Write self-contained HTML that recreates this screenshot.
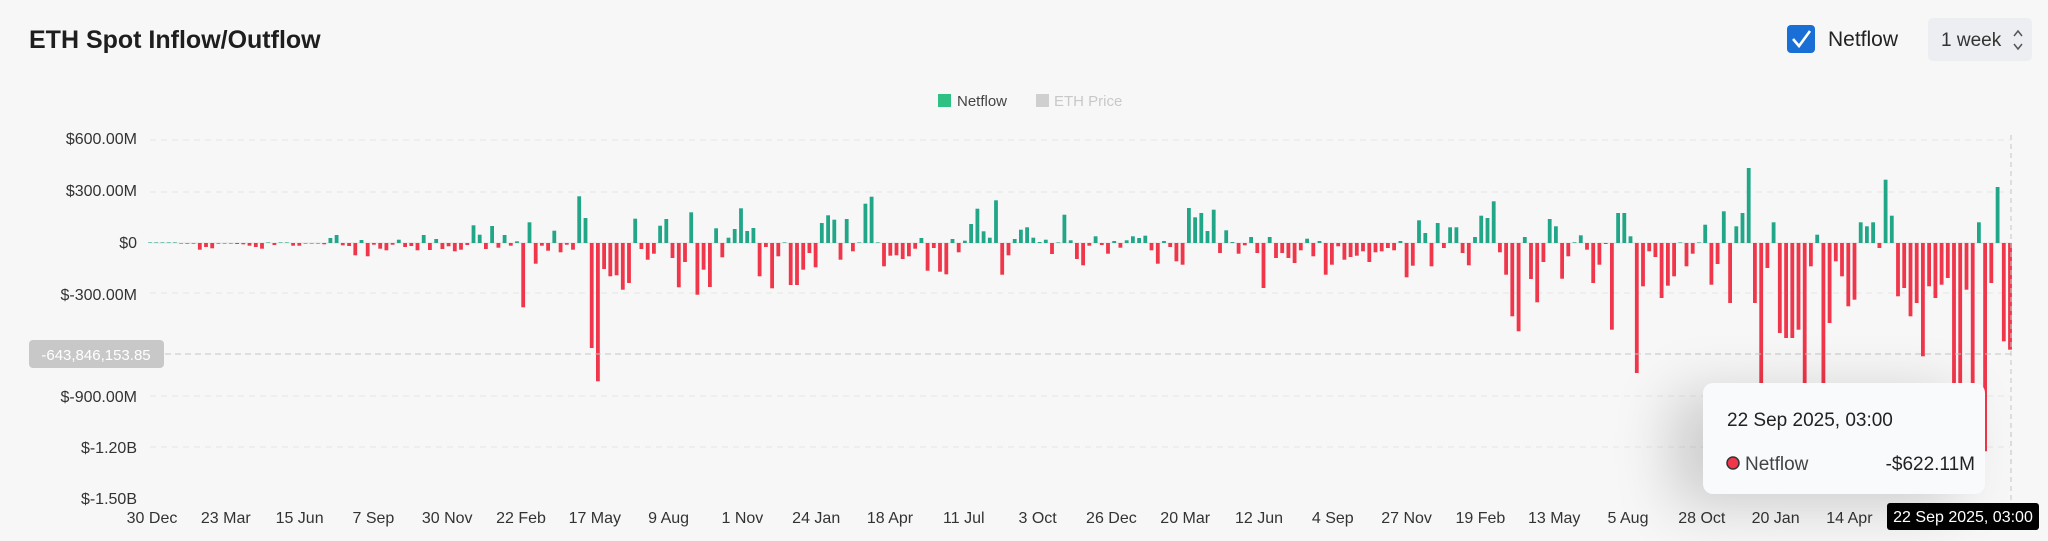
<!DOCTYPE html>
<html><head><meta charset="utf-8"><style>
html,body{margin:0;padding:0;background:#f7f7f7;}
body{width:2048px;height:541px;overflow:hidden;position:relative;font-family:"Liberation Sans",sans-serif;}
svg{position:absolute;left:0;top:0;}
.tt{position:absolute;left:1703px;top:383px;width:282px;height:111px;background:#f9fafb;border-radius:10px;box-shadow:-30px 10px 60px rgba(0,0,0,0.18);}
</style></head><body>
<svg id="c" width="2048" height="541" xmlns="http://www.w3.org/2000/svg">
<text x="29" y="48" font-size="25" font-weight="bold" fill="#1e1e1e" font-family="Liberation Sans, sans-serif">ETH Spot Inflow/Outflow</text>
<rect x="1787" y="25" width="28" height="28" rx="4" fill="#1a6fd6"/>
<path d="M1793 39 L1799 46 L1810 31" stroke="#fff" stroke-width="2.6" fill="none"/>
<text x="1828" y="46" font-size="21" fill="#222" font-family="Liberation Sans, sans-serif">Netflow</text>
<rect x="1928" y="18" width="104" height="43" rx="5" fill="#eceef1"/>
<text x="1941" y="46" font-size="19" fill="#333" font-family="Liberation Sans, sans-serif">1 week</text>
<path d="M2014 36 l4 -5 l4 5 M2014 44 l4 5 l4 -5" stroke="#555" stroke-width="1.5" fill="none"/>
<rect x="938" y="94" width="13" height="13" fill="#2fc184"/>
<text x="957" y="106" font-size="15" fill="#444" font-family="Liberation Sans, sans-serif">Netflow</text>
<rect x="1036" y="94" width="13" height="13" fill="#cfcfcf"/>
<text x="1054" y="106" font-size="15" fill="#c8c8c8" font-family="Liberation Sans, sans-serif">ETH Price</text>
<g font-size="16" fill="#333" text-anchor="end" font-family="Liberation Sans, sans-serif">
<text x="137" y="144">$600.00M</text>
<text x="137" y="196">$300.00M</text>
<text x="137" y="248">$0</text>
<text x="137" y="300">$-300.00M</text>
<text x="137" y="402">$-900.00M</text>
<text x="137" y="453">$-1.20B</text>
<text x="137" y="504">$-1.50B</text>
</g>
<g stroke="#e6e6e6" stroke-dasharray="6,5">
<line x1="150" y1="140" x2="2010" y2="140"/><line x1="150" y1="192" x2="2010" y2="192"/>
<line x1="150" y1="293" x2="2010" y2="293"/><line x1="150" y1="396" x2="2010" y2="396"/>
<line x1="150" y1="447" x2="2010" y2="447"/>
</g>
<line x1="150" y1="243" x2="2012" y2="243" stroke="#e0e0e0"/>
<g id="bars"></g>
<line x1="165" y1="354" x2="2012" y2="354" stroke="#c4c4c4" stroke-dasharray="6,4"/>
<line x1="2011" y1="135" x2="2011" y2="503" stroke="#c4c4c4" stroke-dasharray="5,4"/>
<rect x="29" y="340" width="135" height="28" rx="4" fill="#c8c8c8"/>
<text x="96" y="360" font-size="15" fill="#fff" text-anchor="middle" font-family="Liberation Sans, sans-serif">-643,846,153.85</text>
<g font-size="16" fill="#333" text-anchor="middle" font-family="Liberation Sans, sans-serif" id="xl"></g>
</svg>
<div class="tt"></div>
<svg width="2048" height="541" xmlns="http://www.w3.org/2000/svg">
<text x="1727" y="426" font-size="19" fill="#222" font-family="Liberation Sans, sans-serif">22 Sep 2025, 03:00</text>
<circle cx="1733" cy="463" r="6" fill="#f0364a" stroke="#333" stroke-width="1.5"/>
<text x="1745" y="470" font-size="19" fill="#444" font-family="Liberation Sans, sans-serif">Netflow</text>
<text x="1975" y="470" font-size="19" fill="#222" text-anchor="end" font-family="Liberation Sans, sans-serif">-$622.11M</text>
<rect x="1887" y="503" width="152" height="27" rx="3" fill="#000"/>
<text x="1963" y="522" font-size="16" fill="#fff" text-anchor="middle" font-family="Liberation Sans, sans-serif">22 Sep 2025, 03:00</text>
</svg>
<script>
var v=[0,0,0,0,0,-1,-2,-2,-20,-12,-16,-2,-1,-1,-3,-4,-8,-12,-17,0,-6,1,0,-8,-8,-1,-1,-1,-4,15,24,-7,-9,-37,9,-40,-5,-17,-22,-5,10,-12,-9,-22,24,-21,12,-18,-10,-25,-20,-6,53,25,-18,51,-14,24,-8,5,-193,62,-62,-8,-23,37,-28,
-5,-20,140,75,-315,-415,-78,-100,-97,-140,-120,73,-18,-50,-32,52,72,-45,-133,-57,92,-155,-80,-132,44,-43,16,42,104,36,45,-100,-12,-136,-40,0,-126,-126,-80,-30,-73,60,83,70,-50,72,-25,0,118,139,0,-70,-38,-37,-48,-40,-17,15,-83,-15,-86,-94,12,-28,
7,57,103,35,16,128,-95,-37,12,40,47,16,3,10,-33,0,85,8,-48,-67,-8,20,-6,-32,6,-14,8,20,15,22,-22,-62,6,-12,-55,-65,105,77,90,36,100,-30,38,3,-32,-7,18,-30,-135,18,-45,-30,-45,-60,-22,13,-40,6,-95,-65,-10,-50,-42,-38,
-25,-57,-28,-25,-15,-22,6,-103,-68,68,30,-70,60,-15,47,47,-30,-67,18,82,75,125,-28,-95,-220,-265,18,-108,-178,-57,72,50,-107,-40,2,23,-20,-120,-65,-3,-260,90,90,20,-390,-130,-25,-42,-165,-128,-100,0,-70,-32,0,55,-125,-63,95,-180,50,90,225,
-180,-440,-75,62,-270,-285,-285,-260,-450,-70,25,-430,-240,-55,-100,-190,-170,62,50,62,-15,190,82,-160,-135,-220,-180,-340,-130,-165,-125,-105,-425,-425,-140,-420,62,-625,-120,168,-295,-320];
var n=v.length,p=(2010-150)/(n-1),s='';
for(var i=0;i<n;i++){var h=v[i]/3,x=150+i*p-1.9;if(Math.abs(h)<0.6)h=h<0?-0.6:0.6;
s+='<rect x="'+x.toFixed(1)+'" y="'+(h>0?243-h:243).toFixed(1)+'" width="3.8" height="'+Math.abs(h).toFixed(1)+'" fill="'+(h>0?'#22a688':'#f0364a')+'"/>';}
document.getElementById('bars').innerHTML=s;
var L=['30 Dec','23 Mar','15 Jun','7 Sep','30 Nov','22 Feb','17 May','9 Aug','1 Nov','24 Jan','18 Apr','11 Jul','3 Oct','26 Dec','20 Mar','12 Jun','4 Sep','27 Nov','19 Feb','13 May','5 Aug','28 Oct','20 Jan','14 Apr'],t='';
for(var j=0;j<L.length;j++){t+='<text x="'+(152+j*73.8).toFixed(1)+'" y="523">'+L[j]+'</text>';}
document.getElementById('xl').innerHTML=t;
</script>
</body></html>
